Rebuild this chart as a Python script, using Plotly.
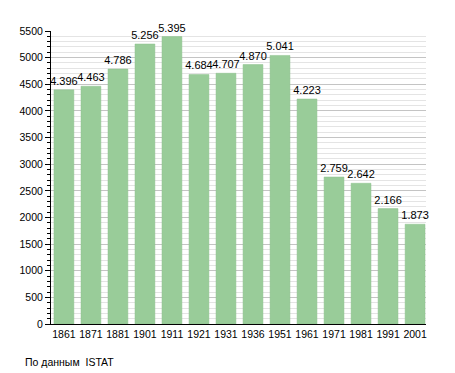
import plotly.graph_objects as go

years = ["1861", "1871", "1881", "1901", "1911", "1921", "1931", "1936", "1951", "1961", "1971", "1981", "1991", "2001"]
population = [4396, 4463, 4786, 5256, 5395, 4684, 4707, 4870, 5041, 4223, 2759, 2642, 2166, 1873]
labels = [f"{v:,}".replace(",", ".") for v in population]

fig = go.Figure()
fig.add_trace(go.Bar(
    x=years, y=population, text=labels, textposition="outside",
    constraintext="none",
    textfont=dict(family="Liberation Sans, Arial", size=11, color="#000"),
    marker=dict(color="#99cc99", line=dict(color="#8cc08c", width=0.5)),
    cliponaxis=False,
))
fig.update_layout(
    width=447, height=365,
    margin=dict(l=40, r=29, t=23, b=49),
    plot_bgcolor="white", paper_bgcolor="white",
    bargap=0.265, showlegend=False,
    font=dict(family="Liberation Sans, Arial", size=10, color="#000"),
)
fig.update_yaxes(
    range=[0, 5500], dtick=500, showgrid=True, gridcolor="#c4c4c4", gridwidth=1,
    showline=True, linecolor="#000", linewidth=1, ticks="outside", ticklen=5,
    tickcolor="#000", zeroline=False,
    minor=dict(dtick=100, showgrid=True, gridcolor="#e4e4e4",
               ticks="outside", ticklen=3, tickcolor="#000"),
    tickfont=dict(size=10.5),
)
fig.update_xaxes(
    showline=True, linecolor="#000", linewidth=1, ticks="", tickfont=dict(size=10.5),
    type="category", range=[-0.478, 13.405],
)
fig.add_annotation(
    text="По данным  ISTAT", xref="paper", yref="paper", x=-0.075, y=-0.13,
    xanchor="left", yanchor="middle", showarrow=False,
    font=dict(size=10.5, family="Liberation Sans, Arial"),
)
fig.write_html("out.html")
